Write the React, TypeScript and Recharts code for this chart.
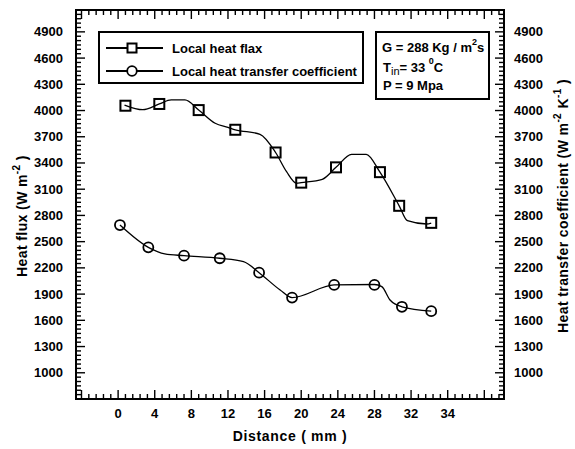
import React from 'react';
import { ComposedChart, Line, XAxis, YAxis, Legend, Customized } from 'recharts';

// ---------- data ----------
const fluxMarkerX = [0.8, 4.5, 8.8, 12.8, 17.2, 20.0, 23.8, 28.6, 30.7, 34.2];
const fluxMarkerY = [4055, 4075, 4005, 3780, 3520, 3175, 3350, 3295, 2910, 2715];

const htcMarkerX = [0.2, 3.3, 7.2, 11.1, 15.4, 19.0, 23.6, 28.0, 31.0, 34.2];
const htcMarkerY = [2690, 2435, 2340, 2310, 2145, 1860, 2005, 2005, 1755, 1705];

// smooth connecting curves as drawn in the picture
const fluxCurveX = [0.7, 2.7, 4.5, 5.8, 7.3, 8.8, 10.6, 12.0, 12.8, 15.5, 17.2, 18.4, 19.5, 20.0, 22.3, 23.8, 25.5, 27.1, 28.6, 30.7, 31.6, 33.7, 34.2];
const fluxCurveY = [4063, 4010, 4075, 4121, 4121, 4005, 3854, 3808, 3780, 3728, 3520, 3300, 3168, 3175, 3213, 3350, 3499, 3499, 3295, 2910, 2740, 2702, 2712];

const htcCurveX = [0.2, 3.3, 5.1, 7.2, 11.1, 13.7, 15.4, 17.7, 19.0, 23.6, 28.0, 28.8, 29.7, 31.0, 34.2];
const htcCurveY = [2690, 2435, 2360, 2340, 2310, 2271, 2145, 1947, 1860, 2005, 2010, 1985, 1833, 1755, 1705];

// axes
const xDomain: [number, number] = [-4.6, 42.15];
const xMajorTicks = [-4, 0, 4, 8, 12, 16, 20, 24, 28, 32, 36, 40];
const xTickLabels = ['', '0', '4', '8', '12', '16', '20', '24', '28', '32', '34', ''];
const xMinorStep = 0.8;

const yDomain: [number, number] = [700, 5150];
const yMajorTicks = [700, 1000, 1300, 1600, 1900, 2200, 2500, 2800, 3100, 3400, 3700, 4000, 4300, 4600, 4900];
const yTickLabels = ['', '1000', '1300', '1600', '1900', '2200', '2500', '2800', '3100', '3400', '3700', '4000', '4300', '4600', '4900'];
const yMinorStep = 50;

const seriesNames = ['Local heat flax', 'Local heat transfer coefficient'];

// ---------- helpers ----------
const toPoints = (xs: number[], ys: number[]) => xs.map((x, i) => ({ x, y: ys[i] }));
const fluxMarkers = toPoints(fluxMarkerX, fluxMarkerY);
const htcMarkers = toPoints(htcMarkerX, htcMarkerY);
const fluxCurve = toPoints(fluxCurveX, fluxCurveY);
const htcCurve = toPoints(htcCurveX, htcCurveY);

function buildTicks(majors: number[], step: number, dom: [number, number]) {
  const out: number[] = [];
  const start = majors[0];
  const n = Math.floor((dom[1] - start) / step + 1e-6);
  for (let i = 0; i <= n; i++) {
    const v = Math.round((start + i * step) * 1000) / 1000;
    if (v >= dom[0] && v <= dom[1]) out.push(v);
  }
  return out;
}
const xAllTicks = buildTicks(xMajorTicks, xMinorStep, xDomain);
const yAllTicks = buildTicks(yMajorTicks, yMinorStep, yDomain);
const majorIndex = (v: number, majors: number[]) => majors.findIndex((m) => Math.abs(m - v) < 1e-6);

const FONT = '"Liberation Sans", Arial, Helvetica, sans-serif';
const txt = { fontFamily: FONT, fontWeight: 'bold' as const, fill: '#000' };

const XTick = (props: any) => {
  const { x, y, payload, side } = props;
  const mi = majorIndex(payload.value, xMajorTicks);
  const len = mi >= 0 ? 9 : 5;
  const dir = side === 'bottom' ? -1 : 1;
  return (
    <g>
      <line x1={x} x2={x} y1={y} y2={y + dir * len} stroke="#000" strokeWidth={1.4} />
      {side === 'bottom' && mi >= 0 && xTickLabels[mi] ? (
        <text x={x} y={y + 19} textAnchor="middle" fontSize={13} {...txt}>
          {xTickLabels[mi]}
        </text>
      ) : null}
    </g>
  );
};

const YTick = (props: any) => {
  const { x, y, payload, side } = props;
  const mi = majorIndex(payload.value, yMajorTicks);
  const len = mi >= 0 ? 9 : 5;
  const dir = side === 'left' ? 1 : -1;
  const label = mi >= 0 ? yTickLabels[mi] : '';
  return (
    <g>
      <line x1={x} x2={x + dir * len} y1={y} y2={y} stroke="#000" strokeWidth={1.4} />
      {label ? (
        <text
          x={side === 'left' ? x - 13 : x + 10}
          y={y + 4.5}
          textAnchor={side === 'left' ? 'end' : 'start'}
          fontSize={13}
          {...txt}
        >
          {label}
        </text>
      ) : null}
    </g>
  );
};

const Square = (p: any) => (
  <rect key={`s${p.index}`} x={p.cx - 5} y={p.cy - 5} width={10} height={10} fill="none" stroke="#000" strokeWidth={2} />
);
const Circle = (p: any) => (
  <circle key={`c${p.index}`} cx={p.cx} cy={p.cy} r={5} fill="none" stroke="#000" strokeWidth={1.8} />
);

const LegendBox = () => (
  <svg width={268} height={55} style={{ display: 'block', overflow: 'visible' }}>
    <rect x={1} y={1} width={264} height={51} fill="#fff" stroke="#000" strokeWidth={2} />
    <line x1={8} x2={65} y1={17} y2={17} stroke="#000" strokeWidth={2} />
    <rect x={29.5} y={12.5} width={9} height={9} fill="#fff" stroke="#000" strokeWidth={2} />
    <text x={74} y={21.5} fontSize={13} {...txt}>{seriesNames[0]}</text>
    <line x1={8} x2={65} y1={40} y2={40} stroke="#000" strokeWidth={2} />
    <circle cx={34} cy={40} r={4.8} fill="#fff" stroke="#000" strokeWidth={1.8} />
    <text x={74} y={44.5} fontSize={13} {...txt}>{seriesNames[1]}</text>
  </svg>
);

const InsetBox = () => (
  <g>
    <rect x={376} y={32} width={113} height={67} fill="#fff" stroke="#000" strokeWidth={2} />
    <text x={382} y={51.5} fontSize={13} {...txt}>
      G = 288 Kg / m
      <tspan dy={-7} fontSize={9}>2</tspan>
      <tspan dy={7}>s</tspan>
    </text>
    <text x={383} y={72} fontSize={13} {...txt}>
      T
      <tspan dy={3} fontSize={11} fontWeight="normal">in</tspan>
      <tspan dy={-3}>= 33 </tspan>
      <tspan dy={-8} fontSize={9}>0</tspan>
      <tspan dy={8}>C</tspan>
    </text>
    <text x={383} y={90} fontSize={13} {...txt}>P = 9 Mpa</text>
  </g>
);

const LeftTitle = () => {
  const cx = 27;
  const cy = 216;
  return (
    <text transform={`rotate(-90 ${cx} ${cy})`} x={cx} y={cy} textAnchor="middle" fontSize={14} letterSpacing={0.4} {...txt}>
      Heat flux (W m
      <tspan dy={-7} fontSize={10}>-2</tspan>
      <tspan dy={7}> )</tspan>
    </text>
  );
};

const RightTitle = () => {
  const cx = 568;
  const cy = 206;
  return (
    <text transform={`rotate(-90 ${cx} ${cy})`} x={cx} y={cy} textAnchor="middle" fontSize={14} letterSpacing={0.4} {...txt}>
      Heat transfer coefficient (W m
      <tspan dy={-7} fontSize={10}>-2</tspan>
      <tspan dy={7}> K</tspan>
      <tspan dy={-7} fontSize={10}>-1</tspan>
      <tspan dy={7}> )</tspan>
    </text>
  );
};

const BottomTitle = () => (
  <text x={290} y={441} textAnchor="middle" fontSize={14} letterSpacing={0.7} {...txt}>
    Distance ( mm )
  </text>
);

const axisLineStyle = { stroke: '#000', strokeWidth: 2, strokeLinecap: 'square' as const };

export default function App() {
  return (
    <div style={{ position: 'absolute', left: 0, top: 0, width: 575, height: 449, background: '#fff' }}>
      <ComposedChart width={575} height={449} margin={{ top: 0, right: 0, bottom: 0, left: 0 }}>
        <XAxis
          xAxisId="b"
          orientation="bottom"
          type="number"
          dataKey="x"
          domain={xDomain}
          allowDataOverflow
          ticks={xAllTicks}
          interval={0}
          tickLine={false}
          tickSize={0}
          tickMargin={0}
          height={50}
          axisLine={axisLineStyle}
          tick={<XTick side="bottom" />}
          label={() => <BottomTitle />}
        />
        <XAxis
          xAxisId="t"
          orientation="top"
          type="number"
          dataKey="x"
          domain={xDomain}
          allowDataOverflow
          ticks={xAllTicks}
          interval={0}
          tickLine={false}
          tickSize={0}
          tickMargin={0}
          height={10}
          axisLine={axisLineStyle}
          tick={<XTick side="top" />}
        />
        <YAxis
          yAxisId="l"
          orientation="left"
          type="number"
          domain={yDomain}
          allowDataOverflow
          ticks={yAllTicks}
          interval={0}
          tickLine={false}
          tickSize={0}
          tickMargin={0}
          width={76}
          axisLine={axisLineStyle}
          tick={<YTick side="left" />}
          label={() => <LeftTitle />}
        />
        <YAxis
          yAxisId="r"
          orientation="right"
          type="number"
          domain={yDomain}
          allowDataOverflow
          ticks={yAllTicks}
          interval={0}
          tickLine={false}
          tickSize={0}
          tickMargin={0}
          width={71}
          axisLine={axisLineStyle}
          tick={<YTick side="right" />}
          label={() => <RightTitle />}
        />

        <Line xAxisId="b" yAxisId="l" data={fluxCurve} dataKey="y" type="monotone" stroke="#000" strokeWidth={1.3} dot={false} isAnimationActive={false} legendType="none" />
        <Line xAxisId="b" yAxisId="l" data={fluxMarkers} dataKey="y" name={seriesNames[0]} stroke="none" dot={Square} activeDot={false} isAnimationActive={false} />
        <Line xAxisId="t" yAxisId="r" data={htcCurve} dataKey="y" type="monotone" stroke="#000" strokeWidth={1.3} dot={false} isAnimationActive={false} legendType="none" />
        <Line xAxisId="t" yAxisId="r" data={htcMarkers} dataKey="y" name={seriesNames[1]} stroke="none" dot={Circle} activeDot={false} isAnimationActive={false} />

        <Customized component={<InsetBox />} />
        <Legend
          layout="horizontal"
          verticalAlign="middle"
          align="center"
          content={<LegendBox />}
          wrapperStyle={{ left: 98, top: 31, width: 268, height: 55 }}
        />
      </ComposedChart>
    </div>
  );
}
